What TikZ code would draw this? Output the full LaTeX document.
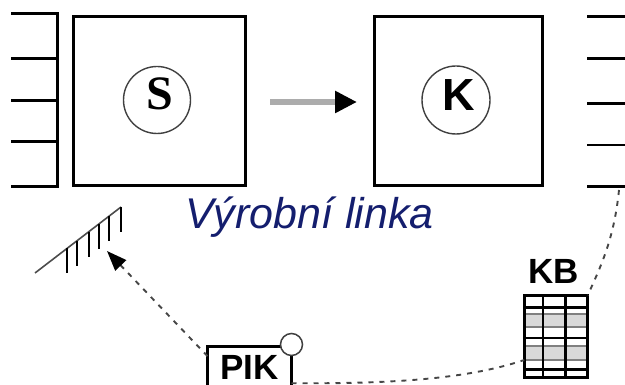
\documentclass[tikz,border=0pt]{standalone}
\usepackage{fontspec}
\setmainfont{Liberation Sans}
\newfontfamily\serifface{Liberation Serif}
\usetikzlibrary{arrows.meta}
\definecolor{linkblue}{RGB}{20,30,110}
\definecolor{wiregray}{RGB}{70,70,70}

\begin{document}
\begin{tikzpicture}[x=1pt,y=-1pt,
  machine/.style={draw, line width=3pt, outer sep=0pt, inner sep=0pt, minimum height=169pt},
  ring/.style={circle, draw=black!75, line width=1.4pt, outer sep=0pt, inner sep=0pt, minimum size=67pt},
  stub/.style={line width=2.8pt},
  infoflow/.style={draw=wiregray, line width=1.9pt, dash pattern=on 5pt off 6pt},
  hatch/.style={line width=2pt},
  tag/.style={inner sep=0pt, font=\bfseries\fontsize{35}{35}\selectfont},
]
\useasboundingbox (0,0) rectangle (625,385);
\clip (0,0) rectangle (625,385);

% production line: two machine boxes with their rings
\node[machine, minimum width=172pt] (sbox) at (159.5,101) {};
\node[machine, minimum width=168pt] (kbox) at (458.5,101) {};
\node[ring] (sring) at (157,100) {};
\node[ring, minimum size=68pt] (kring) at (456,100) {};
\node[anchor=base, inner sep=0pt, font=\serifface\bfseries\fontsize{48}{48}\selectfont] (slabel) at (159.5,110) {S};
\node[anchor=base, inner sep=0pt, font=\bfseries\fontsize{45}{45}\selectfont] (klabel) at (459,110.5) {K};

% input stubs (left) and output stubs (right)
\draw[stub] (57.5,12.2) -- (57.5,187.6);
\foreach \y in {13.5,58.7,100.2,141.5,186.3}
  \draw[stub] (11,\y) -- (57.5,\y);
\foreach \y in {16.7,58.3,103.3,145,186.7}
  \draw[stub] (587,\y) -- (625,\y);

% material flow S -> K
\draw[line width=5.5pt, draw=gray!65, -{Triangle[length=22pt,width=21pt,color=black]},
      shorten <=24.5pt, shorten >=17.5pt] ([yshift=-1pt]sbox.east) -- ([yshift=-1pt]kbox.west);

\node[anchor=base west, inner sep=0pt, font=\itshape\fontsize{43}{43}\selectfont, text=linkblue]
  (linelabel) at (185,229) {Výrobní linka};

% hatched wall
\draw[line width=1.6pt, draw=black!70] (35,273) -- (121,207);
\foreach \x/\y in {67/248.4,77/240.8,89/231.6,99/223.9,109/216.2,121/207}
  \draw[hatch] (\x,\y) -- (\x,\y+25);
\coordinate (wallpt) at (107,251);

% PIK box (runs past the lower edge) with its sensor
\node[draw, line width=2.7pt, outer sep=0pt, anchor=north west, minimum width=84pt,
      minimum height=60pt, inner sep=0pt] (pikbox) at (207.5,346.2) {};
\node[tag, anchor=base] (pik) at (249.5,380) {PIK};
\node[circle, draw=black!75, fill=white, line width=1.5pt, minimum size=22pt, inner sep=0pt]
  (sensor) at (291.5,344.5) {};

% KB table
\node[tag, anchor=base] (kblabel) at (554,284) {KB};
\fill[gray!30] (525.5,315.5) rectangle (586.5,326);
\fill[gray!30] (525.5,347.5) rectangle (586.5,359);
\foreach \y in {314,327,346.5,360}
  \draw[black!50, line width=2pt] (525.5,\y) -- (586.5,\y);
\node[draw, line width=2.8pt, outer sep=0pt, inner sep=0pt, minimum width=63.4pt, minimum height=82.4pt]
  (kb) at (556,336.5) {};
\foreach \y in {307.3,338,369.7}
  \draw[line width=2.7pt] (kb.west |- 0,\y) -- (kb.east |- 0,\y);
\foreach \x in {543,565.8}
  \draw[line width=2.7pt] (\x,0 |- kb.north) -- (\x,0 |- kb.south);

% information flows
\coordinate (lineout) at (619,190);
\draw[infoflow, -{Triangle[length=20pt,width=15pt,color=black]}] ([yshift=-10pt]pikbox.north west) -- (wallpt);
\draw[infoflow] ([yshift=-37pt]pikbox.north east) .. controls (400,384) and (470,378) .. ([yshift=-23.5pt]kb.west);
\draw[infoflow] (lineout) .. controls (614,240) and (600,268) .. (kb.north east);
\end{tikzpicture}
\end{document}
